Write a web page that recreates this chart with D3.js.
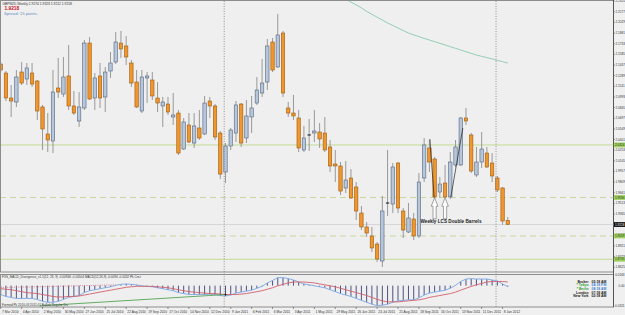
<!DOCTYPE html>
<html><head><meta charset="utf-8">
<script src="https://cdn.jsdelivr.net/npm/d3@7"></script>
<style>
body{margin:0;background:#f0f0f0}
svg{display:block}
text{font-family:"Liberation Sans",Arial,sans-serif}
</style>
</head><body>
<svg id="c" width="625" height="315"></svg>
<script>
// ---------- DATA ----------
const weekLabels = ["7 Mar 2010","4 Apr 2010","2 May 2010","30 May 2010","27 Jun 2010","25 Jul 2010","22 Aug 2010","19 Sep 2010","17 Oct 2010","14 Nov 2010","12 Dec 2010","9 Jan 2011","6 Feb 2011","6 Mar 2011","3 Apr 2011","1 May 2011","29 May 2011","26 Jun 2011","24 Jul 2011","21 Aug 2011","18 Sep 2011","16 Oct 2011","13 Nov 2011","11 Dec 2011","8 Jan 2012"];
const labelEvery = 4;
const yearSeparators = [43, 95];

const opens = [2.1449,2.1324,2.0977,2.0921,2.1338,2.1241,2.1324,2.1213,2.0852,2.0476,
2.0379,2.1116,2.1032,2.1283,2.0866,2.0657,2.0838,2.1741,2.0977,2.1283,
2.0991,2.1352,2.1477,2.1741,2.1700,2.1463,2.1199,2.0796,2.1255,2.1227,
2.0977,2.0866,2.0893,2.0713,2.0768,2.0268,2.0602,2.0351,2.0560,2.0476,
2.0935,2.0866,2.0490,1.9948,2.0310,2.0490,2.0893,2.0421,2.0713,2.0907,
2.1046,2.1199,2.1755,2.1408,2.1880,2.0838,2.0768,2.0699,2.0254,2.0463,
2.0490,2.0504,2.0490,2.0296,2.0059,2.0032,1.9726,1.9865,1.9740,1.9378,
1.9184,1.9059,1.8947,1.8711,1.9517,1.9503,2.0073,1.9406,1.9114,1.9295,
1.9059,1.9865,2.0282,2.0129,1.9670,1.9795,1.9601,2.0046,2.0046,2.0699,
2.0463,1.9907,2.0087,2.0212,2.0073,1.9865,1.9726,1.9274];
const highs = [2.1477,2.1352,2.1158,2.1366,2.1477,2.1463,2.1463,2.1227,2.0880,2.0768,
2.1366,2.1533,2.1547,2.1714,2.1074,2.1060,2.1783,2.1825,2.1324,2.1463,
2.1408,2.1616,2.1894,2.1908,2.1839,2.1505,2.1366,2.1366,2.1338,2.1338,
2.1199,2.0991,2.0991,2.1046,2.0810,2.0699,2.0768,2.0768,2.0810,2.1005,
2.0991,2.0893,2.0518,2.0351,2.0560,2.0935,2.0907,2.0949,2.1005,2.1269,
2.1519,2.1797,2.1811,2.2144,2.1908,2.0921,2.1019,2.0810,2.0588,2.0685,
2.0810,2.0629,2.0713,2.0393,2.0254,2.0087,2.0101,1.9990,1.9809,1.9476,
1.9253,1.9184,1.8975,1.9615,2.0254,2.0073,2.0087,1.9448,1.9517,1.9378,
1.9934,2.0421,2.0393,2.0157,1.9879,2.0046,2.0226,2.0393,2.0713,2.0838,
2.0490,2.0296,2.0504,2.0296,2.0212,1.9893,1.9740,1.9323];
const lows = [2.1338,2.0935,2.0713,2.0852,2.1158,2.1158,2.1130,2.0671,2.0254,2.0226,
2.0212,2.0977,2.0991,2.0810,2.0741,2.0574,2.0810,2.0949,2.0810,2.0838,
2.0782,2.1255,2.1449,2.1533,2.1436,2.1130,2.0838,2.0768,2.0907,2.0949,
2.0782,2.0574,2.0741,2.0602,2.0185,2.0254,2.0351,2.0282,2.0393,2.0463,
2.0699,2.0393,1.9851,1.9795,2.0254,2.0365,2.0296,2.0351,2.0490,2.0880,
2.0991,2.1088,2.1338,2.1394,2.0991,2.0713,2.0671,2.0226,2.0226,2.0240,
2.0365,2.0282,2.0226,1.9948,1.9809,1.9629,1.9656,1.9573,1.9281,1.9142,
1.9045,1.8836,1.8697,1.8628,1.9337,1.9378,1.9378,1.9031,1.9100,1.9003,
1.9031,1.9809,1.9948,1.9587,1.9587,1.9587,1.9573,2.0018,2.0032,2.0602,
1.9934,1.9879,2.0004,2.0004,1.9809,1.9670,1.9212,1.9212];
const closes = [2.1366,2.0977,2.0935,2.1269,2.1185,2.1394,2.1171,2.0796,2.0546,2.0393,
2.1060,2.1060,2.1269,2.0866,2.0768,2.0852,2.1741,2.0963,2.1255,2.0977,
2.1338,2.1463,2.1755,2.1658,2.1547,2.1185,2.0852,2.1269,2.1283,2.1005,
2.0907,2.0921,2.0782,2.0741,2.0212,2.0643,2.0365,2.0588,2.0421,2.0907,
2.0866,2.0435,1.9920,2.0310,2.0532,2.0880,2.0351,2.0727,2.0838,2.1088,
2.1185,2.1700,2.1366,2.1853,2.1046,2.0768,2.0727,2.0282,2.0421,2.0463,
2.0518,2.0407,2.0254,2.0032,2.0032,1.9684,1.9837,1.9587,1.9406,1.9184,
1.9100,1.8892,1.8739,1.9406,1.9517,2.0018,1.9448,1.9142,1.9309,1.9059,
1.9809,2.0324,2.0087,1.9601,1.9781,1.9601,2.0087,2.0296,2.0699,2.0657,
1.9962,2.0087,2.0268,2.0018,1.9893,1.9698,1.9267,1.9218];

const maStart = 66;
const maValues = [2.2350,2.2310,2.2270,2.2230,2.2180,2.2140,2.2100,2.2060,2.2020,2.1985,
2.1950,2.1915,2.1880,2.1853,2.1830,2.1805,2.1783,2.1760,2.1737,2.1714,
2.1690,2.1667,2.1644,2.1620,2.1597,2.1574,2.1556,2.1538,2.1520,2.1500,2.1482,2.1463];

const priceTicks = [2.2325,2.2177,2.2029,2.1881,2.1733,2.1585,2.1437,2.1289,2.1141,2.0993,
2.0845,2.0697,2.0549,2.0401,2.0253,2.0105,1.9957,1.9809,1.9661,1.9513,1.9365,1.9069,1.8921,1.8773,1.8625];
const solidLevels = [2.0324, 1.8735];
const dashedLevels = [1.9594, 1.9059];
const bidPrice = 1.9218;
const titleText = "GBPNZD,Weekly  1.9274 1.9323 1.9212 1.9218";
const spreadText = "Spread: 15 points.";

const arrowIdx = [83, 85];
const arrowPrice = [1.9590, 1.9590];
const noteText = "Weekly LCS Double Barrels";
const noteIdx = 80.3, notePrice = 1.9235;
const lcsLines = [[82.1,2.0407,82.9,1.9601],[86.1,1.9601,88.4,2.0560]];

const macdValues = [-0.0139,-0.0169,-0.0184,-0.0200,-0.0200,-0.0200,-0.0200,-0.0215,-0.0245,-0.0260,
-0.0260,-0.0245,-0.0215,-0.0184,-0.0169,-0.0154,-0.0109,-0.0079,-0.0064,-0.0048,
-0.0033,-0.0018,0.0005,0.0020,0.0027,0.0020,0.0012,-0.0003,-0.0011,-0.0018,
-0.0033,-0.0048,-0.0064,-0.0079,-0.0109,-0.0124,-0.0139,-0.0139,-0.0139,-0.0139,
-0.0132,-0.0139,-0.0154,-0.0162,-0.0147,-0.0116,-0.0101,-0.0086,-0.0071,-0.0041,
-0.0011,0.0042,0.0080,0.0125,0.0125,0.0110,0.0088,0.0057,0.0027,0.0012,
-0.0003,-0.0018,-0.0033,-0.0064,-0.0094,-0.0124,-0.0147,-0.0169,-0.0200,-0.0230,
-0.0260,-0.0290,-0.0313,-0.0305,-0.0290,-0.0260,-0.0237,-0.0230,-0.0222,-0.0222,
-0.0192,-0.0147,-0.0116,-0.0101,-0.0086,-0.0071,-0.0041,0.0005,0.0065,0.0103,
0.0110,0.0103,0.0103,0.0103,0.0088,0.0073,0.0027,-0.0018];
const signalValues = [-0.0048,-0.0056,-0.0064,-0.0079,-0.0094,-0.0109,-0.0116,-0.0124,-0.0139,-0.0154,
-0.0169,-0.0177,-0.0177,-0.0169,-0.0169,-0.0162,-0.0147,-0.0132,-0.0116,-0.0101,
-0.0086,-0.0071,-0.0056,-0.0041,-0.0026,-0.0018,-0.0011,-0.0011,-0.0011,-0.0011,
-0.0018,-0.0026,-0.0033,-0.0048,-0.0064,-0.0079,-0.0094,-0.0101,-0.0109,-0.0116,
-0.0124,-0.0124,-0.0132,-0.0139,-0.0139,-0.0139,-0.0132,-0.0124,-0.0109,-0.0094,
-0.0079,-0.0056,-0.0033,-0.0003,0.0020,0.0042,0.0057,0.0057,0.0057,0.0050,
0.0042,0.0027,0.0012,-0.0003,-0.0018,-0.0041,-0.0064,-0.0086,-0.0109,-0.0132,
-0.0154,-0.0184,-0.0215,-0.0237,-0.0253,-0.0253,-0.0253,-0.0245,-0.0237,-0.0230,
-0.0222,-0.0207,-0.0184,-0.0169,-0.0154,-0.0139,-0.0124,-0.0101,-0.0071,-0.0041,
-0.0011,0.0012,0.0035,0.0057,0.0065,0.0065,0.0065,0.0057];
const macdTicks = [0.0163, 0.0, -0.0321];
const macdTickLabels = ["0.0163","0.00","-0.0321"];
const greenDivIdx = [7.5, 43], greenDivVal = [-0.0316, -0.0139];
const pinkDivIdx = [0, 22], pinkDivVal = [-0.0030, 0.0012];
const indTitle = "FXS_MACD_Divergence_v1.1(12, 26, 9) -0.00946 -0.00504  MACD(12,26,9) -0.0094 -0.0052  Pk Cnct";
const indNote = "Formed Pk 2010.03 2011.01 Bullish Regular Div";
const clockNames = ["Broker","* Tokyo","* Berlin","London","New York"];
const clockTimes = ["05:18 AM","04:18 PM","08:18 AM","07:18 AM","02:18 AM"];

// ---------- LAYOUT ----------
const svg = d3.select('#c');
const axisX = 613.5;
const mainTop = 0.5, mainBot = 272;
const indTop = 274.5, indBot = 307;
const n = opens.length;
const x = d3.scaleLinear().domain([0, n-1]).range([0.7, 507.8]);
const y = d3.scaleLinear().domain([1.8600, 2.2339]).range([269, 0]);
const ym = d3.scaleLinear().domain([-0.0321, 0.0163]).range([306.2, 275.2]);
const axFont = 3.1;

svg.append('rect').attr('width',625).attr('height',315).attr('fill','#f0f0f0');
const defs = svg.append('defs');
defs.append('clipPath').attr('id','cm').append('rect').attr('x',1).attr('y',1).attr('width',axisX-1).attr('height',mainBot-1);
defs.append('clipPath').attr('id','ci').append('rect').attr('x',1).attr('y',indTop).attr('width',axisX-1).attr('height',indBot-indTop);

// panel frames
svg.append('rect').attr('x',0.5).attr('y',mainTop).attr('width',axisX-0.5).attr('height',mainBot-mainTop)
  .attr('fill','#efefef').attr('stroke','#8c8c8c').attr('stroke-width',1);
svg.append('rect').attr('x',0.5).attr('y',indTop).attr('width',axisX-0.5).attr('height',indBot-indTop)
  .attr('fill','#efefef').attr('stroke','#8c8c8c').attr('stroke-width',1);
svg.append('line').attr('x1',axisX).attr('x2',axisX).attr('y1',0).attr('y2',indBot)
  .attr('stroke','#555').attr('stroke-width',1);

const gm = svg.append('g').attr('clip-path','url(#cm)');
// level lines
gm.selectAll('.sl').data(solidLevels).join('line')
  .attr('x1',0).attr('x2',axisX).attr('y1',d=>y(d)).attr('y2',d=>y(d))
  .attr('stroke','#c3dc95').attr('stroke-width',1);
gm.selectAll('.dl').data(dashedLevels).join('line')
  .attr('x1',0).attr('x2',axisX).attr('y1',d=>y(d)).attr('y2',d=>y(d))
  .attr('stroke','#c9d99c').attr('stroke-width',1).attr('stroke-dasharray','6,4');
gm.append('line').attr('x1',0).attr('x2',axisX).attr('y1',y(bidPrice)).attr('y2',y(bidPrice))
  .attr('stroke','#d6d6d6').attr('stroke-width',1);

// year separators
svg.selectAll('.sep').data(yearSeparators).join('line')
  .attr('x1',d=>x(d)-1.3).attr('x2',d=>x(d)-1.3).attr('y1',1).attr('y2',indBot)
  .attr('stroke','#7a7a7a').attr('stroke-width',0.8).attr('stroke-dasharray','1,1.5');

// moving average
gm.append('path').datum(maValues)
  .attr('d', d3.line().x((d,i)=>x(maStart+i)).y(d=>y(d)))
  .attr('fill','none').attr('stroke','#93cdb3').attr('stroke-width',1);

// candles
const idx = d3.range(n);
gm.selectAll('.wick').data(idx).join('line')
  .attr('x1',i=>x(i)).attr('x2',i=>x(i)).attr('y1',i=>y(highs[i])).attr('y2',i=>y(lows[i]))
  .attr('stroke','#8e8e8e').attr('stroke-width',0.9);
const bw = 3.4;
gm.selectAll('.body').data(idx.filter(i=>opens[i]!==closes[i])).join('rect')
  .attr('x',i=>x(i)-bw/2).attr('width',bw)
  .attr('y',i=>y(Math.max(opens[i],closes[i])))
  .attr('height',i=>Math.max(1,Math.abs(y(opens[i])-y(closes[i]))))
  .attr('fill',i=>closes[i]>opens[i]?'#b6c6db':'#ef962c')
  .attr('stroke',i=>closes[i]>opens[i]?'#55657d':'#a05a10')
  .attr('stroke-width',0.6);
gm.selectAll('.doji').data(idx.filter(i=>opens[i]===closes[i])).join('line')
  .attr('x1',i=>x(i)-bw/2).attr('x2',i=>x(i)+bw/2).attr('y1',i=>y(opens[i])).attr('y2',i=>y(opens[i]))
  .attr('stroke','#111').attr('stroke-width',1);

// LCS trend lines
gm.selectAll('.lcs').data(lcsLines).join('line')
  .attr('x1',d=>x(d[0])).attr('y1',d=>y(d[1])).attr('x2',d=>x(d[2])).attr('y2',d=>y(d[3]))
  .attr('stroke','#222').attr('stroke-width',0.7);

// arrows
gm.selectAll('.arw').data(arrowIdx).join('path')
  .attr('d',(d,k)=>{const ax=x(d), ay=y(arrowPrice[k]);
    return `M${ax},${ay}L${ax+3.4},${ay+8.5}L${ax+1.6},${ay+8.5}L${ax+1.6},${ay+21}L${ax-1.6},${ay+21}L${ax-1.6},${ay+8.5}L${ax-3.4},${ay+8.5}Z`;})
  .attr('fill','#fbfbfb').attr('stroke','#6c6c6c').attr('stroke-width',0.6);

gm.append('text').attr('x',x(noteIdx)).attr('y',y(notePrice))
  .attr('font-size',4.6).attr('font-weight','bold').attr('fill','#222')
  .attr('textLength',61).attr('lengthAdjust','spacingAndGlyphs').text(noteText);

// right axis labels
svg.selectAll('.pt').data(priceTicks).join('text')
  .attr('x',axisX+1.9).attr('y',d=>y(d)+1.1).attr('font-size',axFont).attr('fill','#333')
  .text(d=>d.toFixed(4));
svg.selectAll('.ptk').data(priceTicks).join('line')
  .attr('x1',axisX).attr('x2',axisX+1.4).attr('y1',d=>y(d)).attr('y2',d=>y(d)).attr('stroke','#555').attr('stroke-width',0.6);
const lvl = solidLevels.concat(dashedLevels);
const gl = svg.selectAll('.lv').data(lvl).join('g');
gl.append('rect').attr('x',axisX+0.5).attr('y',d=>y(d)-2.4).attr('width',11).attr('height',4.8).attr('fill','#a2d064');
gl.append('text').attr('x',axisX+1.4).attr('y',d=>y(d)+1.1).attr('font-size',axFont).attr('fill','#1d3a10').text(d=>d.toFixed(4));
svg.append('rect').attr('x',axisX+0.5).attr('y',y(bidPrice)-2.4).attr('width',11).attr('height',4.8).attr('fill','#0c0c0c');
svg.append('text').attr('x',axisX+1.4).attr('y',y(bidPrice)+1.1).attr('font-size',axFont).attr('fill','#fff').text(bidPrice.toFixed(4));

// top-left texts
svg.append('text').attr('x',2.5).attr('y',4.6).attr('font-size',3.3).attr('fill','#333').text(titleText);
svg.append('text').attr('x',4.5).attr('y',9.5).attr('font-size',4.8).attr('font-weight','bold').attr('fill','#c8101a').text(bidPrice.toFixed(4));
svg.append('text').attr('x',4).attr('y',15).attr('font-size',4.2).attr('fill','#5f8fc4').text(spreadText);

// ---------- MACD panel ----------
const gi = svg.append('g').attr('clip-path','url(#ci)');
gi.selectAll('.hb').data(idx).join('line')
  .attr('x1',i=>x(i)).attr('x2',i=>x(i)).attr('y1',ym(0)).attr('y2',i=>ym(macdValues[i]))
  .attr('stroke','#232c6a').attr('stroke-width',0.8);
gi.append('path').datum(macdValues)
  .attr('d',d3.line().x((d,i)=>x(i)).y(d=>ym(d)))
  .attr('fill','none').attr('stroke','#86aee6').attr('stroke-width',1);
gi.append('path').datum(signalValues)
  .attr('d',d3.line().x((d,i)=>x(i)).y(d=>ym(d)))
  .attr('fill','none').attr('stroke','#d4606c').attr('stroke-width',0.9);
gi.append('line').attr('x1',x(greenDivIdx[0])).attr('y1',ym(greenDivVal[0])).attr('x2',x(greenDivIdx[1])).attr('y2',ym(greenDivVal[1]))
  .attr('stroke','#3f9a3f').attr('stroke-width',0.8);
gi.append('circle').attr('cx',x(greenDivIdx[1])).attr('cy',ym(greenDivVal[1])).attr('r',0.9).attr('fill','#111');
gi.append('line').attr('x1',x(pinkDivIdx[0])).attr('y1',ym(pinkDivVal[0])).attr('x2',x(pinkDivIdx[1])).attr('y2',ym(pinkDivVal[1]))
  .attr('stroke','#d46a78').attr('stroke-width',0.8).attr('stroke-dasharray','1,1.2');
svg.append('text').attr('x',2).attr('y',indTop+3.8).attr('font-size',3.1).attr('fill','#333').text(indTitle);
svg.append('text').attr('x',2).attr('y',indBot-1.2).attr('font-size',3.1).attr('fill','#333').text(indNote);
svg.selectAll('.mt').data(macdTicks).join('text')
  .attr('x',624.6).attr('text-anchor','end').attr('y',d=>ym(d)+1.1).attr('font-size',axFont).attr('fill','#333')
  .text((d,k)=>macdTickLabels[k]);

// clock
const clockY = d3.scaleLinear().domain([0,4]).range([282.5,297.3]);
svg.selectAll('.cn').data(clockNames).join('text')
  .attr('x',588.5).attr('y',(d,k)=>clockY(k)).attr('text-anchor','end')
  .attr('font-size',3.4).attr('font-weight','bold')
  .attr('fill',(d,k)=>(k===1||k===2)?'#2f9a2f':'#151515').text(d=>d);
svg.selectAll('.ct').data(clockTimes).join('text')
  .attr('x',591.5).attr('y',(d,k)=>clockY(k))
  .attr('font-size',3.4).attr('font-weight','bold')
  .attr('fill',(d,k)=>(k===1||k===2)?'#3a82d2':'#151515').text(d=>d);

// date axis
svg.selectAll('.dl2').data(weekLabels).join('text')
  .attr('x',(d,k)=>x(k*labelEvery)+1.2).attr('y',312.6)
  .attr('font-size',3.3).attr('fill','#333').text(d=>d);
svg.selectAll('.dtk').data(weekLabels).join('line')
  .attr('x1',(d,k)=>x(k*labelEvery)).attr('x2',(d,k)=>x(k*labelEvery)).attr('y1',indBot).attr('y2',indBot+2)
  .attr('stroke','#555').attr('stroke-width',0.6);
</script>
</body></html>
